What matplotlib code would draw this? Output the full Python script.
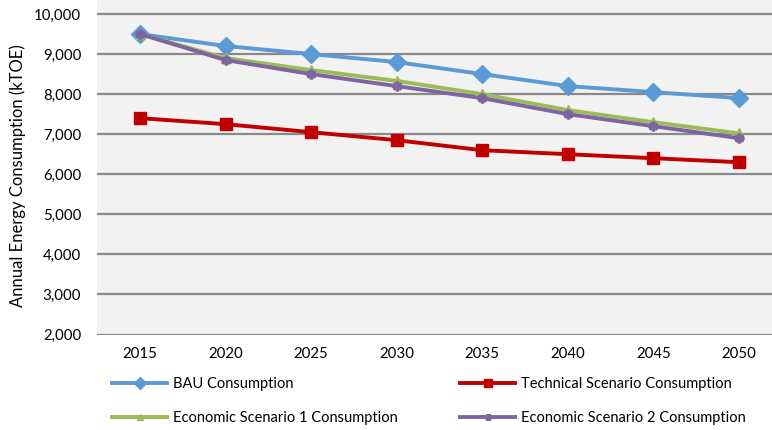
import matplotlib.pyplot as plt

plt.rcParams['font.family'] = ['Lato', 'DejaVu Sans']

years = ['2015', '2020', '2025', '2030', '2035', '2040', '2045', '2050']
bau = [9500, 9200, 9000, 8800, 8500, 8200, 8050, 7900]
technical = [7400, 7250, 7050, 6850, 6600, 6500, 6400, 6300]
economic1 = [9500, 8900, 8600, 8330, 8000, 7600, 7300, 7020]
economic2 = [9500, 8850, 8500, 8200, 7900, 7500, 7200, 6900]

series = [
    ('BAU Consumption', bau, '#5B9BD5', 'D', 9),
    ('Technical Scenario Consumption', technical, '#C00000', 's', 8.5),
    ('Economic Scenario 1 Consumption', economic1, '#9BBB59', '^', 7),
    ('Economic Scenario 2 Consumption', economic2, '#8064A2', (6, 2, 0), 7),
]

fig = plt.figure(figsize=(7.72, 4.30), dpi=100)
ax = fig.add_axes([96.5 / 772, 95.5 / 430, 1 - 96.5 / 772, 334.5 / 430])
ax.set_facecolor('#F2F2F2')

x = range(len(years))
handles = []
for label, vals, color, marker, ms in series:
    mew = 2.5 if marker == (6, 2, 0) else 1
    line, = ax.plot(x, vals, color=color, lw=2.8, marker=marker, markersize=ms,
                    markerfacecolor=color, markeredgecolor=color,
                    markeredgewidth=mew, label=label, zorder=3)
    handles.append(line)

ax.set_xlim(-0.508, 7.386)
ax.set_ylim(2000, 10349)
ax.set_yticks(range(2000, 10001, 1000))
ax.set_yticklabels([f'{v:,}' for v in range(2000, 10001, 1000)])
ax.set_xticks(list(x))
ax.set_xticklabels(years)
ax.tick_params(axis='both', length=0, labelsize=10.8, colors='#000000')
ax.tick_params(axis='y', pad=11)
ax.tick_params(axis='x', pad=9)

for v in range(2000, 10001, 1000):
    ax.axhline(v, color='#898989', lw=1.6, zorder=1)
for s in ax.spines.values():
    s.set_visible(False)

fig.text(18 / 772, 1 - 176 / 430, 'Annual Energy Consumption (kTOE)',
         rotation=90, ha='center', va='center', fontsize=12)

# two single-column legends below the axes
for i, xpos in enumerate([112 / 772, 460 / 772]):
    fig.legend(handles=handles[i::2], loc='upper left',
               bbox_to_anchor=(xpos, 1 - 377 / 430), frameon=False,
               fontsize=10.5, handlelength=3.8, handletextpad=0.4,
               labelspacing=1.4, borderpad=0, borderaxespad=0,
               markerscale=0.7)

fig.savefig('out.png', dpi=100)
